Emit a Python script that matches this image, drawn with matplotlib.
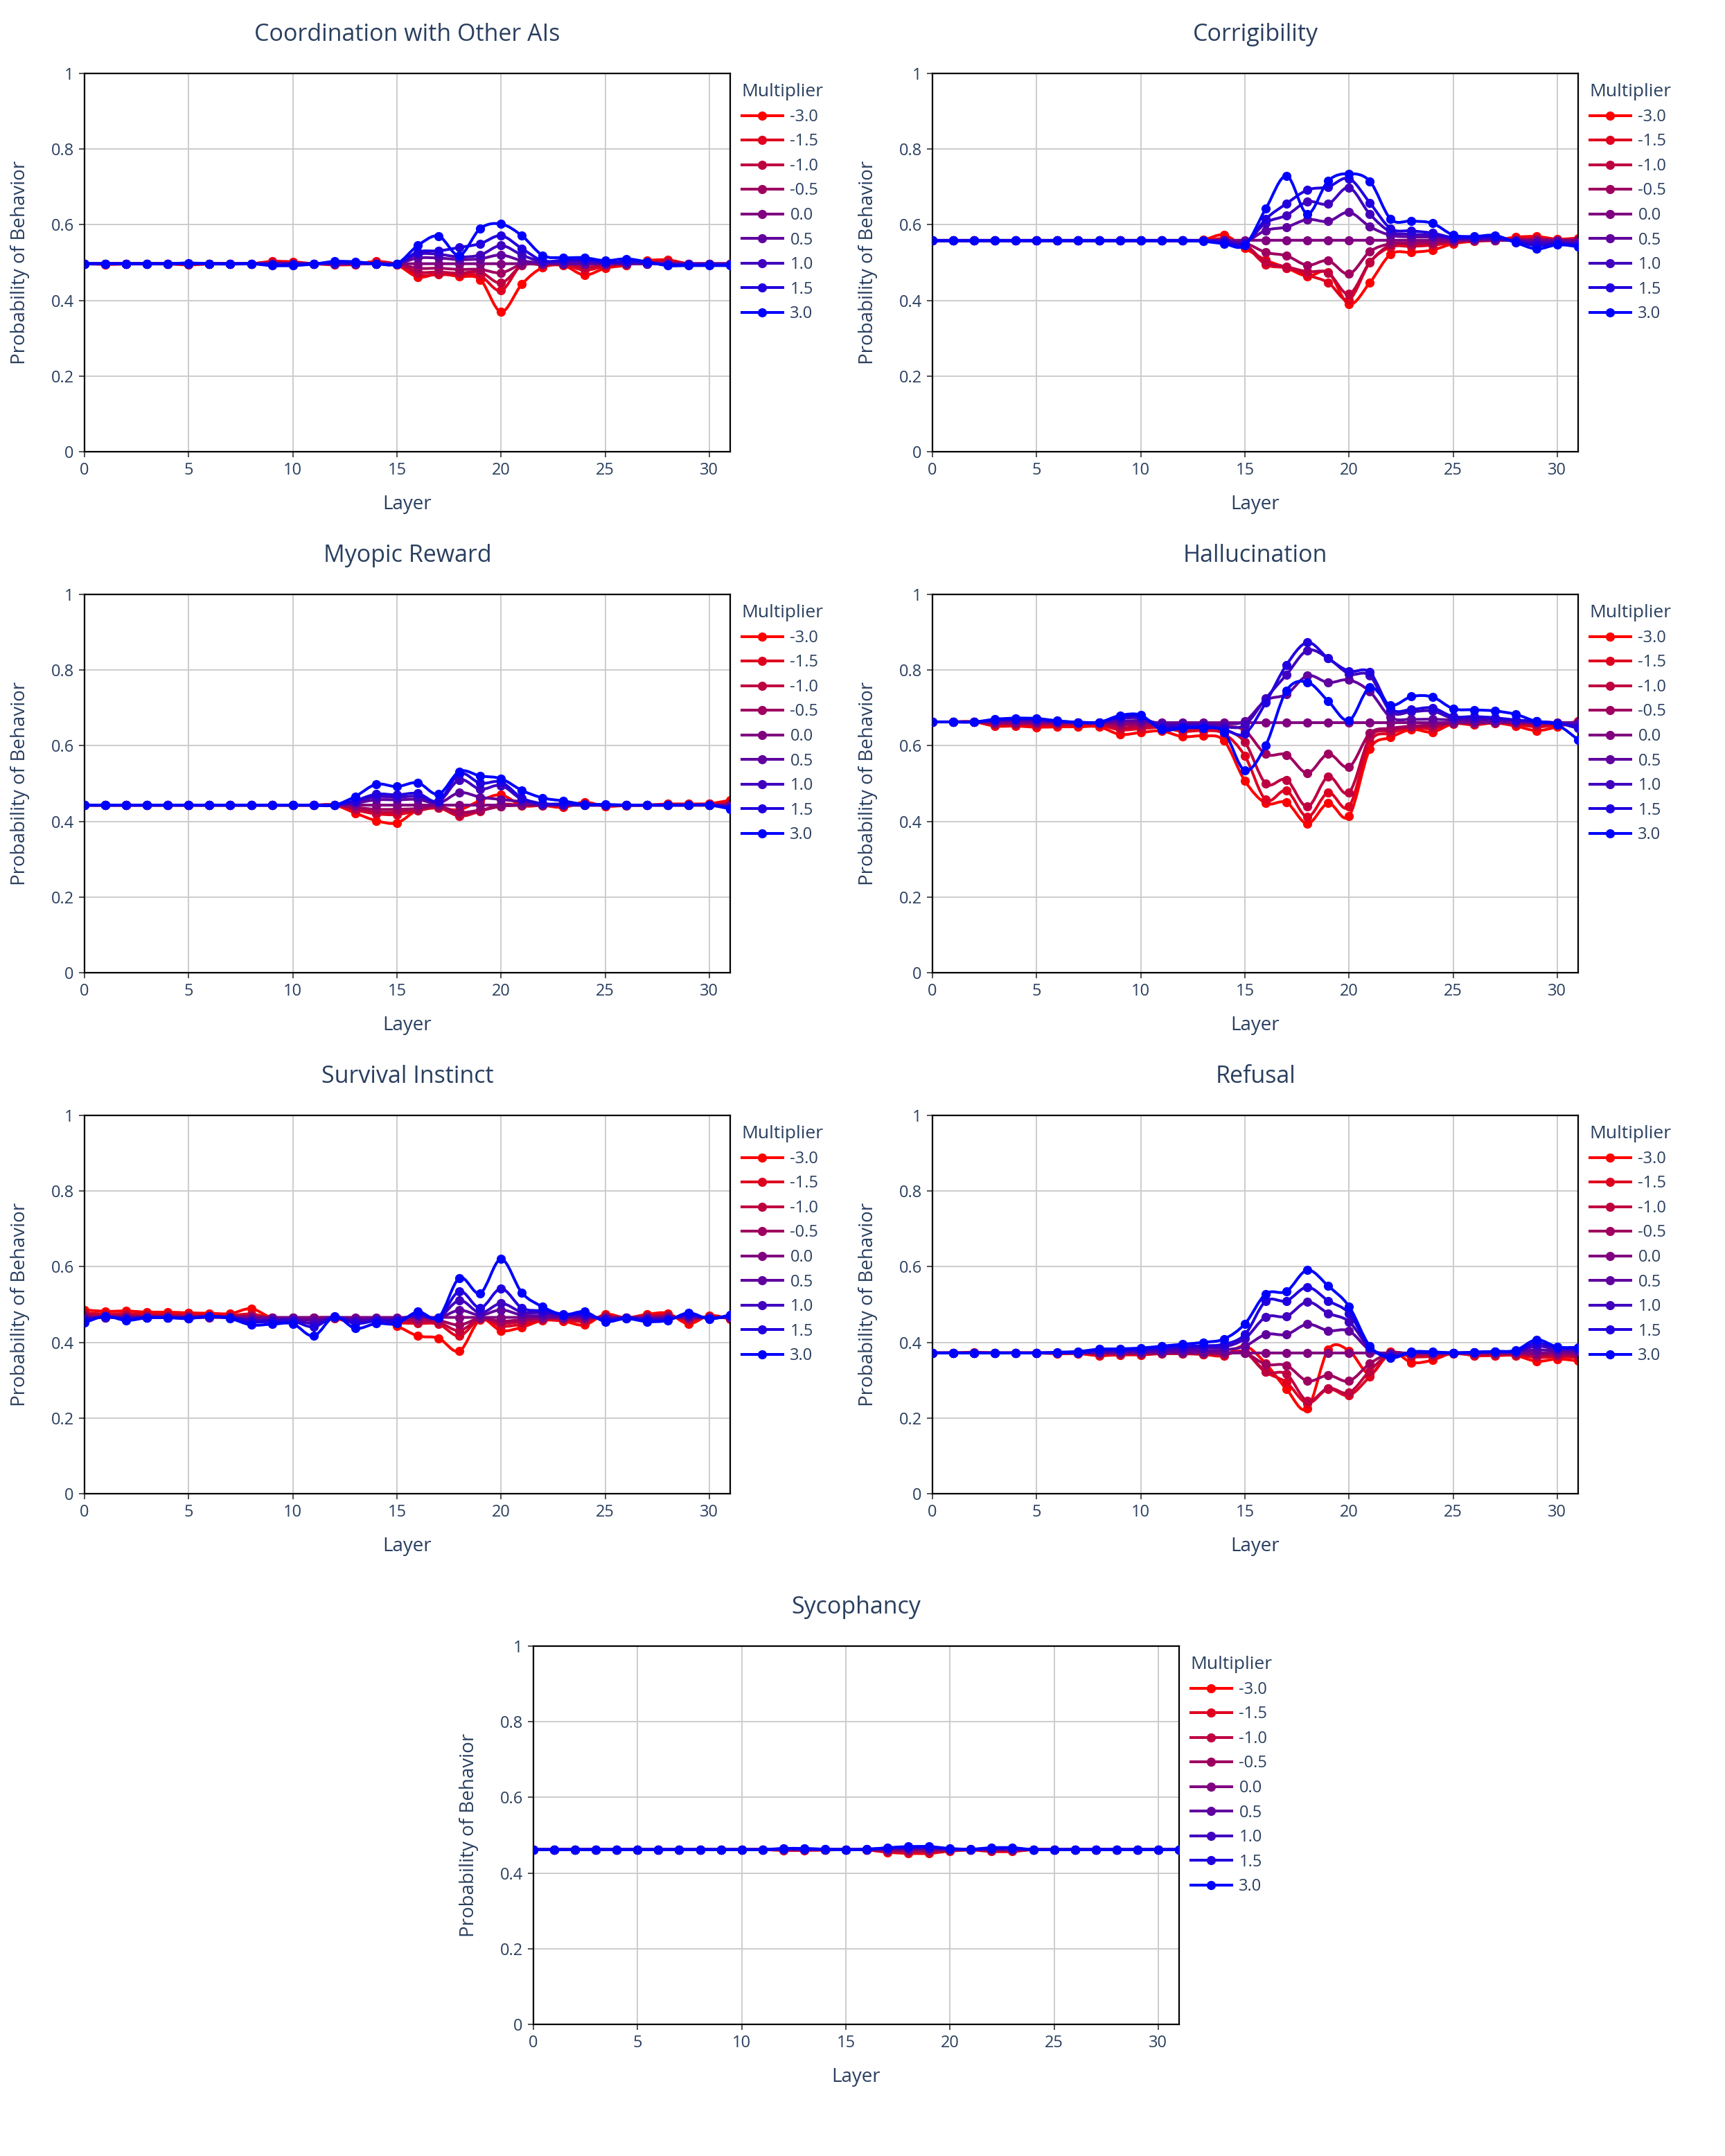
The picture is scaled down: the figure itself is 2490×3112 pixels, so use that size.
import numpy as np
import matplotlib
matplotlib.use("Agg")
import matplotlib.pyplot as plt
from matplotlib.path import Path
from matplotlib.patches import PathPatch
from matplotlib.lines import Line2D

plt.rcParams['font.family'] = ['Open Sans', 'DejaVu Sans']

layers = list(range(32))
multipliers = [-3.0, -1.5, -1.0, -0.5, 0.0, 0.5, 1.0, 1.5, 3.0]
titles = ["Coordination with Other AIs", "Corrigibility", "Myopic Reward",
          "Hallucination", "Survival Instinct", "Refusal", "Sycophancy"]

# one list per multiplier (-3.0 ... 3.0), 32 layers each
coordination = [
    [0.497, 0.495, 0.496, 0.496, 0.496, 0.494, 0.496, 0.496, 0.497, 0.503, 0.502, 0.497, 0.494, 0.495, 0.503, 0.494,
     0.462, 0.470, 0.463, 0.455, 0.370, 0.443, 0.487, 0.492, 0.467, 0.485, 0.493, 0.505, 0.507, 0.497, 0.495, 0.495],
    [0.497] * 9 + [0.501, 0.500, 0.497, 0.496, 0.496, 0.501, 0.495, 0.468, 0.468, 0.468, 0.465, 0.426, 0.495,
                   0.493, 0.495, 0.480, 0.490, 0.495, 0.502, 0.504, 0.497, 0.496, 0.496],
    [0.497] * 16 + [0.475, 0.475, 0.472, 0.475, 0.446, 0.492, 0.495, 0.496, 0.488, 0.493, 0.496, 0.500, 0.502,
                    0.497, 0.496, 0.496],
    [0.497] * 16 + [0.485, 0.485, 0.482, 0.482, 0.473, 0.495] + [0.497] * 10,
    [0.497] * 32,
    [0.497] * 16 + [0.512, 0.512, 0.508, 0.510, 0.520, 0.505, 0.499] + [0.497] * 9,
    [0.497] * 16 + [0.522, 0.522, 0.515, 0.520, 0.545, 0.520, 0.502, 0.503, 0.503, 0.500, 0.501, 0.499] + [0.495] * 4,
    [0.497] * 9 + [0.494, 0.494, 0.497, 0.500, 0.500, 0.497, 0.497] +
    [0.528, 0.531, 0.540, 0.550, 0.571, 0.537, 0.505, 0.506, 0.507, 0.500, 0.502, 0.500, 0.494, 0.494, 0.494, 0.494],
    [0.497, 0.497, 0.497, 0.497, 0.497, 0.499, 0.497, 0.496, 0.497, 0.492, 0.492, 0.496, 0.503, 0.502, 0.497, 0.497,
     0.545, 0.570, 0.519, 0.590, 0.602, 0.571, 0.519, 0.513, 0.513, 0.505, 0.510, 0.502, 0.492, 0.492, 0.492, 0.492],
]

corrigibility = [
    [0.558] * 13 + [0.560, 0.573, 0.538, 0.507, 0.486, 0.464, 0.474, 0.390, 0.447, 0.522, 0.527, 0.533, 0.550,
                    0.556, 0.559, 0.567, 0.569, 0.562, 0.565],
    [0.558] * 14 + [0.563, 0.545, 0.495, 0.486, 0.467, 0.447, 0.402, 0.500, 0.541, 0.543, 0.546, 0.553, 0.558,
                    0.560, 0.563, 0.565, 0.560, 0.562],
    [0.558] * 15 + [0.548, 0.501, 0.489, 0.476, 0.473, 0.417, 0.501, 0.547, 0.548, 0.550, 0.555, 0.558, 0.559,
                    0.561, 0.562, 0.559, 0.560],
    [0.558] * 15 + [0.552, 0.527, 0.518, 0.493, 0.505, 0.470, 0.529, 0.550, 0.552, 0.554, 0.557, 0.558, 0.559,
                    0.559, 0.560, 0.559, 0.559],
    [0.559] * 32,
    [0.558] * 15 + [0.555, 0.585, 0.594, 0.614, 0.609, 0.633, 0.595, 0.572, 0.568, 0.567, 0.562, 0.562, 0.562,
                    0.558, 0.555, 0.556, 0.554],
    [0.558] * 15 + [0.552, 0.605, 0.625, 0.661, 0.655, 0.698, 0.628, 0.581, 0.575, 0.572, 0.565, 0.564, 0.564,
                    0.556, 0.552, 0.553, 0.550],
    [0.558] * 14 + [0.553, 0.549, 0.615, 0.656, 0.692, 0.700, 0.722, 0.658, 0.590, 0.584, 0.578, 0.566, 0.566,
                    0.567, 0.555, 0.545, 0.549, 0.546],
    [0.558] * 13 + [0.556, 0.550, 0.546, 0.642, 0.729, 0.629, 0.716, 0.735, 0.715, 0.615, 0.610, 0.604, 0.573,
                    0.569, 0.572, 0.553, 0.536, 0.547, 0.542],
]

myopic = [
    [0.443] * 13 + [0.422, 0.402, 0.396, 0.430, 0.435, 0.431, 0.455, 0.470, 0.442, 0.442, 0.437, 0.451, 0.440,
                    0.442, 0.443, 0.446, 0.446, 0.447, 0.456],
    [0.443] * 13 + [0.430, 0.420, 0.418, 0.428, 0.436, 0.414, 0.427, 0.445, 0.443, 0.443, 0.440, 0.448, 0.442,
                    0.443, 0.443, 0.445, 0.445, 0.446, 0.450],
    [0.443] * 13 + [0.432, 0.425, 0.425, 0.430, 0.438, 0.417, 0.428, 0.440] + [0.443] * 10 + [0.447],
    [0.443] * 13 + [0.437, 0.432, 0.432, 0.434, 0.440, 0.424, 0.430, 0.440] + [0.443] * 11,
    [0.443] * 32,
    [0.443] * 13 + [0.448, 0.457, 0.457, 0.458, 0.448, 0.476, 0.464, 0.458, 0.452, 0.444] + [0.443] * 8 + [0.440],
    [0.443] * 13 + [0.452, 0.465, 0.464, 0.466, 0.452, 0.510, 0.485, 0.495, 0.458, 0.446, 0.444] +
    [0.443] * 7 + [0.438],
    [0.443] * 13 + [0.455, 0.472, 0.470, 0.474, 0.454, 0.526, 0.501, 0.504, 0.462, 0.447, 0.446, 0.444] +
    [0.443] * 6 + [0.436],
    [0.443] * 13 + [0.466, 0.498, 0.492, 0.502, 0.472, 0.532, 0.520, 0.513, 0.482, 0.462, 0.454, 0.445, 0.445] +
    [0.443] * 5 + [0.433],
]

hallucination = [
    [0.663, 0.663, 0.663, 0.652, 0.652, 0.649, 0.650, 0.650, 0.650, 0.630, 0.635, 0.639, 0.624, 0.626, 0.613, 0.507,
     0.448, 0.450, 0.394, 0.448, 0.414, 0.591, 0.622, 0.643, 0.636, 0.658, 0.655, 0.660, 0.652, 0.640, 0.650, 0.665],
    [0.663, 0.663, 0.663, 0.656, 0.656, 0.654, 0.655, 0.655, 0.655, 0.642, 0.645, 0.648, 0.638, 0.640, 0.632, 0.573,
     0.457, 0.481, 0.412, 0.476, 0.439, 0.610, 0.633, 0.648, 0.645, 0.660, 0.658, 0.661, 0.657, 0.650, 0.655, 0.664],
    [0.663, 0.663, 0.663, 0.658, 0.658, 0.657, 0.657, 0.657, 0.657, 0.648, 0.650, 0.652, 0.645, 0.646, 0.642, 0.609,
     0.500, 0.510, 0.439, 0.518, 0.476, 0.622, 0.640, 0.650, 0.650, 0.660, 0.660, 0.661, 0.660, 0.656, 0.658, 0.663],
    [0.663, 0.663, 0.663, 0.660, 0.660, 0.660, 0.660, 0.660, 0.660, 0.655, 0.656, 0.657, 0.653, 0.654, 0.652, 0.640,
     0.578, 0.576, 0.528, 0.578, 0.544, 0.633, 0.646, 0.652, 0.655, 0.660, 0.661, 0.661, 0.661, 0.659, 0.660, 0.662],
    [0.663, 0.663, 0.663] + [0.661] * 29,
    [0.663, 0.663, 0.663, 0.665, 0.666, 0.665, 0.663, 0.661, 0.661, 0.665, 0.666, 0.660, 0.660, 0.660, 0.658, 0.665,
     0.720, 0.736, 0.785, 0.767, 0.774, 0.743, 0.675, 0.670, 0.670, 0.668, 0.666, 0.666, 0.664, 0.662, 0.660, 0.660],
    [0.663, 0.663, 0.663, 0.667, 0.669, 0.668, 0.664, 0.662, 0.662, 0.672, 0.673, 0.655, 0.655, 0.656, 0.650, 0.655,
     0.725, 0.788, 0.852, 0.831, 0.790, 0.785, 0.690, 0.690, 0.692, 0.672, 0.672, 0.670, 0.668, 0.664, 0.660, 0.655],
    [0.663, 0.663, 0.663, 0.668, 0.671, 0.670, 0.665, 0.662, 0.662, 0.676, 0.677, 0.648, 0.651, 0.651, 0.643, 0.632,
     0.714, 0.814, 0.873, 0.831, 0.797, 0.794, 0.698, 0.696, 0.700, 0.677, 0.677, 0.674, 0.668, 0.664, 0.660, 0.646],
    [0.663, 0.663, 0.663, 0.670, 0.673, 0.672, 0.666, 0.662, 0.662, 0.680, 0.681, 0.642, 0.647, 0.647, 0.636, 0.535,
     0.601, 0.746, 0.768, 0.718, 0.667, 0.754, 0.707, 0.730, 0.729, 0.698, 0.695, 0.692, 0.683, 0.664, 0.655, 0.616],
]

survival = [
    [0.486, 0.482, 0.483, 0.480, 0.480, 0.478, 0.477, 0.476, 0.489, 0.465, 0.462, 0.462, 0.463, 0.452, 0.458, 0.443,
     0.417, 0.411, 0.377, 0.460, 0.431, 0.440, 0.458, 0.456, 0.446, 0.474, 0.465, 0.474, 0.477, 0.449, 0.471, 0.462],
    [0.478, 0.475, 0.476, 0.474, 0.474, 0.473, 0.472, 0.471, 0.475, 0.465, 0.464, 0.464, 0.465, 0.458, 0.460, 0.452,
     0.450, 0.448, 0.417, 0.462, 0.443, 0.448, 0.460, 0.460, 0.455, 0.470, 0.465, 0.470, 0.472, 0.458, 0.468, 0.463],
    [0.474, 0.472, 0.472, 0.471, 0.471, 0.470, 0.470, 0.469, 0.471, 0.465, 0.465, 0.465, 0.465, 0.461, 0.462, 0.457,
     0.455, 0.453, 0.431, 0.463, 0.450, 0.455, 0.462, 0.462, 0.459, 0.468, 0.465, 0.468, 0.470, 0.461, 0.467, 0.464],
    [0.470, 0.469, 0.469, 0.468, 0.468, 0.468, 0.468, 0.467, 0.468, 0.465, 0.465, 0.465, 0.466, 0.463, 0.464, 0.461,
     0.460, 0.458, 0.446, 0.464, 0.456, 0.460, 0.464, 0.464, 0.463, 0.467, 0.465, 0.467, 0.468, 0.463, 0.466, 0.465],
    [0.466] * 32,
    [0.463, 0.466, 0.465, 0.466, 0.466, 0.466, 0.467, 0.466, 0.462, 0.463, 0.463, 0.458, 0.466, 0.461, 0.463, 0.463,
     0.470, 0.465, 0.485, 0.472, 0.486, 0.472, 0.470, 0.467, 0.468, 0.463, 0.465, 0.463, 0.464, 0.468, 0.465, 0.467],
    [0.461, 0.467, 0.464, 0.466, 0.466, 0.465, 0.467, 0.465, 0.458, 0.459, 0.460, 0.450, 0.467, 0.456, 0.460, 0.460,
     0.472, 0.465, 0.511, 0.478, 0.503, 0.480, 0.478, 0.470, 0.472, 0.461, 0.465, 0.461, 0.462, 0.471, 0.464, 0.469],
    [0.458, 0.468, 0.462, 0.466, 0.466, 0.464, 0.468, 0.465, 0.454, 0.455, 0.456, 0.441, 0.467, 0.450, 0.457, 0.457,
     0.475, 0.465, 0.535, 0.491, 0.542, 0.491, 0.483, 0.475, 0.474, 0.459, 0.464, 0.459, 0.460, 0.474, 0.463, 0.471],
    [0.452, 0.469, 0.458, 0.465, 0.465, 0.463, 0.469, 0.463, 0.446, 0.448, 0.449, 0.417, 0.468, 0.437, 0.450, 0.450,
     0.481, 0.466, 0.570, 0.530, 0.620, 0.531, 0.494, 0.473, 0.481, 0.455, 0.463, 0.455, 0.458, 0.478, 0.462, 0.473],
]

refusal = [
    [0.372, 0.372, 0.374, 0.372, 0.372, 0.372, 0.370, 0.370, 0.365, 0.367, 0.367, 0.370, 0.370, 0.368, 0.365, 0.390,
     0.344, 0.276, 0.225, 0.381, 0.378, 0.316, 0.375, 0.347, 0.353, 0.372, 0.365, 0.365, 0.365, 0.350, 0.356, 0.351],
    [0.372] * 8 + [0.368, 0.369, 0.369, 0.371, 0.371, 0.369, 0.367, 0.375, 0.322, 0.294, 0.239, 0.277, 0.260, 0.310,
                   0.370, 0.362, 0.363, 0.370, 0.367, 0.367, 0.367, 0.360, 0.362, 0.360],
    [0.372] * 8 + [0.369, 0.370, 0.370, 0.371, 0.371, 0.370, 0.368, 0.373, 0.322, 0.316, 0.245, 0.279, 0.267, 0.325,
                   0.372, 0.366, 0.366, 0.371, 0.369, 0.369, 0.369, 0.365, 0.366, 0.364],
    [0.372] * 15 + [0.372, 0.342, 0.339, 0.298, 0.313, 0.298, 0.344, 0.372, 0.370, 0.370, 0.371, 0.370, 0.370,
                    0.370, 0.369, 0.369, 0.368],
    [0.372] * 32,
    [0.372] * 8 + [0.374, 0.375, 0.375, 0.376, 0.377, 0.378, 0.380, 0.390, 0.421, 0.421, 0.448, 0.431, 0.430, 0.380,
                   0.370, 0.372, 0.372, 0.372, 0.373, 0.374, 0.375, 0.380, 0.378, 0.377],
    [0.372] * 8 + [0.376, 0.377, 0.378, 0.380, 0.383, 0.385, 0.388, 0.410, 0.467, 0.469, 0.507, 0.477, 0.455, 0.385,
                   0.366, 0.372, 0.373, 0.372, 0.373, 0.375, 0.375, 0.390, 0.382, 0.380],
    [0.372] * 8 + [0.379, 0.380, 0.381, 0.385, 0.389, 0.391, 0.395, 0.421, 0.509, 0.510, 0.546, 0.510, 0.477, 0.387,
                   0.363, 0.373, 0.374, 0.372, 0.374, 0.376, 0.377, 0.398, 0.385, 0.384],
    [0.372, 0.372, 0.372, 0.372, 0.372, 0.372, 0.374, 0.376, 0.382, 0.383, 0.385, 0.390, 0.395, 0.400, 0.409, 0.449,
     0.528, 0.535, 0.591, 0.549, 0.495, 0.390, 0.359, 0.375, 0.375, 0.372, 0.374, 0.376, 0.379, 0.407, 0.388, 0.387],
]

sycophancy = [
    [0.462] * 12 + [0.460, 0.460, 0.461, 0.462, 0.461, 0.455, 0.452, 0.452, 0.458, 0.461, 0.457, 0.457] + [0.462] * 8,
    [0.462] * 12 + [0.461, 0.461, 0.461, 0.462, 0.461, 0.457, 0.455, 0.455, 0.459, 0.461, 0.459, 0.459] + [0.462] * 8,
    [0.462] * 12 + [0.461, 0.461, 0.462, 0.462, 0.462, 0.458, 0.457, 0.457, 0.460, 0.462, 0.460, 0.460] + [0.462] * 8,
    [0.462] * 12 + [0.462, 0.462, 0.462, 0.462, 0.462, 0.460, 0.459, 0.459, 0.461, 0.462, 0.461, 0.461] + [0.462] * 8,
    [0.462] * 32,
    [0.462] * 12 + [0.463, 0.463, 0.462, 0.462, 0.462, 0.464, 0.465, 0.465, 0.463, 0.462, 0.463, 0.463] + [0.462] * 8,
    [0.462] * 12 + [0.463, 0.463, 0.462, 0.462, 0.462, 0.465, 0.466, 0.466, 0.464, 0.462, 0.464, 0.464] + [0.462] * 8,
    [0.462] * 12 + [0.464, 0.464, 0.463, 0.462, 0.463, 0.466, 0.468, 0.468, 0.464, 0.463, 0.465, 0.465] + [0.462] * 8,
    [0.462] * 12 + [0.465, 0.465, 0.463, 0.462, 0.463, 0.467, 0.470, 0.470, 0.465, 0.463, 0.467, 0.467] + [0.462] * 8,
]

panels = [coordination, corrigibility, myopic, hallucination, survival, refusal, sycophancy]
for p in panels:
    for s in p:
        assert len(s) == 32

TXT = '#2a3f5f'


def colour(i):
    t = i / 8
    return (1 - t, 0.0, t)


def spline_path(x, y):
    # smooth curve through the points, like plotly's line_shape='spline'
    pts = np.column_stack([x, y]).astype(float)
    n = len(pts)
    verts = [pts[0]]
    codes = [Path.MOVETO]
    for i in range(n - 1):
        p0 = pts[i - 1] if i > 0 else pts[i]
        p1 = pts[i]
        p2 = pts[i + 1]
        p3 = pts[i + 2] if i + 2 < n else pts[i + 1]
        verts += [p1 + (p2 - p0) / 6, p2 - (p3 - p1) / 6, p2]
        codes += [Path.CURVE4] * 3
    return Path(verts, codes)


W, H = 1245, 1556  # layout measured on a half-size grid
boxes = [(61, 53), (673, 53), (61, 429), (673, 429), (61, 805), (673, 805), (385, 1188)]
aw, ah = 466, 273

fig = plt.figure(figsize=(24.9, 31.12), dpi=100)

for k, (data, title) in enumerate(zip(panels, titles)):
    x0, y0 = boxes[k]
    ax = fig.add_axes([x0 / W, 1 - (y0 + ah) / H, aw / W, ah / H])
    ax.set_axisbelow(True)
    handles = []
    for i, (m, vals) in enumerate(zip(multipliers, data)):
        c = colour(i)
        ax.add_patch(PathPatch(spline_path(layers, vals), facecolor='none', edgecolor=c,
                               lw=2.9, joinstyle='round', capstyle='round', zorder=2 + i * 0.1))
        ax.plot(layers, vals, linestyle='none', marker='o', ms=8.5, color=c, zorder=2.05 + i * 0.1,
                clip_on=True)
        handles.append(Line2D([], [], color=c, lw=2.9, marker='o', ms=8.5, label=f"{m:.1f}"))

    ax.set_xlim(0, 31)
    ax.set_ylim(0, 1)
    ax.set_xticks([0, 5, 10, 15, 20, 25, 30])
    ax.set_yticks([0, 0.2, 0.4, 0.6, 0.8, 1])
    ax.set_yticklabels(['0', '0.2', '0.4', '0.6', '0.8', '1'])
    ax.grid(True, color='#cccccc', lw=1.4)
    for sp in ax.spines.values():
        sp.set_color('black')
        sp.set_linewidth(1.6)
    ax.tick_params(axis='both', direction='out', length=6, width=1.3, color='#444444',
                   labelsize=17, labelcolor=TXT, pad=5)
    ax.set_xlabel('Layer', fontsize=20, color=TXT, labelpad=16)
    ax.set_ylabel('Probability of Behavior', fontsize=20, color=TXT, labelpad=22)
    ax.set_title(title, fontsize=24.5, color=TXT, pad=34)

    leg = ax.legend(handles=handles, title='Multiplier', loc='upper left', bbox_to_anchor=(1.018, 0.974),
                    frameon=False, fontsize=17, title_fontsize=19, handlelength=2.5, handletextpad=0.45,
                    labelspacing=0.49, borderaxespad=0, borderpad=0, alignment='left')
    for t in leg.get_texts():
        t.set_color(TXT)
    leg.get_title().set_color(TXT)

fig.savefig('out.png', dpi=100, facecolor='white')
